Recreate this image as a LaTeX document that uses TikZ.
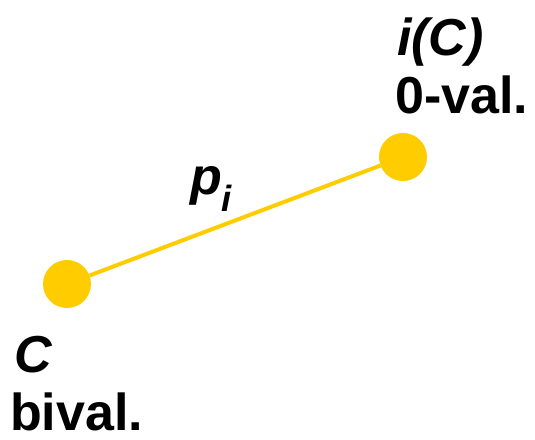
\documentclass[tikz,border=0pt]{standalone}
\usepackage{fontspec}
\setmainfont{Liberation Sans}
\definecolor{gold}{HTML}{FFCC00}
\begin{document}
\begin{tikzpicture}[x=1pt,y=-1pt,
  dot/.style={circle,fill=gold,minimum size=48pt,inner sep=0pt},
  lbl/.style={anchor=base west,inner sep=0pt,font=\fontsize{52}{60}\selectfont\bfseries}]
\useasboundingbox (0,0) rectangle (535,439);
\node[dot] (c) at (67,284) {};
\node[dot] (ic) at (403,157) {};
\draw[gold,line width=4pt] (c) -- (ic);
\node[lbl] (t1) at (397,55) {\itshape i(C)};
\node[lbl] (t2) at (395,113) {0-val.};
\node[lbl] (t3) at (14,372) {\itshape C};
\node[lbl] (t4) at (10,430) {bival.};
\node[lbl] (t5) at (190,194) {\itshape p\textsubscript{\itshape i}};
\end{tikzpicture}
\end{document}
